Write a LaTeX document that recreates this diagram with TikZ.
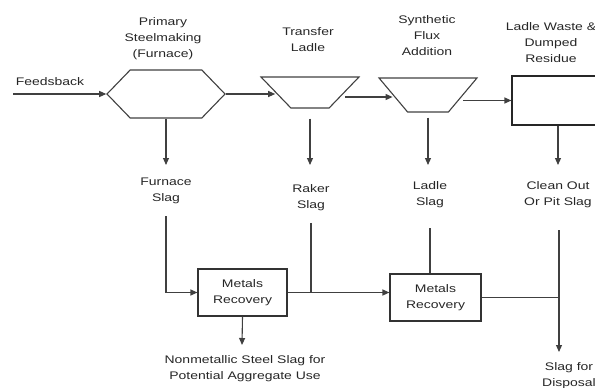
\documentclass[tikz,border=0pt]{standalone}
\usepackage{fontspec}
\setmainfont[FakeStretch=1.27]{Liberation Sans}
\usetikzlibrary{shapes.geometric,shapes.symbols,arrows.meta}

\begin{document}
\begin{tikzpicture}[x=1pt,y=-1pt,
	flow/.style={draw=black!75, line width=1.1pt},
	arr/.style={flow, -{Triangle[length=7pt,width=6pt]}},
	lbl/.style={align=center, inner sep=0pt, text=black!85, font=\fontsize{11}{16}\selectfont},
	ladle/.style={trapezium, draw=black!75, line width=1.1pt, trapezium left angle=52, trapezium right angle=52, shape border rotate=180, trapezium stretches=true, minimum width=98pt, minimum height=31pt, inner sep=2pt},
	unitbox/.style={rectangle, draw=black!80, line width=1.1pt, minimum height=47pt, inner sep=0pt, align=center, text=black!85, font=\fontsize{11}{16}\selectfont}]
	\useasboundingbox (0,0) rectangle (595,388);
	
	%process units
	\node[signal, signal to=west and east, signal pointer angle=92, draw=black!75, line width=1.1pt, minimum width=118pt, minimum height=48pt, inner sep=2pt] (furnace) at (166,94) {};
	\node[ladle] (transfer) at (310,92.5) {};
	\node[ladle, minimum height=34pt, trapezium left angle=55, trapezium right angle=55] (flux) at (428,95) {};
	\node[rectangle, draw=black!85, line width=1.1pt, minimum width=100pt, minimum height=49pt, inner sep=0pt] (waste) at (562,100.5) {};
	\node[unitbox, minimum width=89pt] (rec1) at (242.5,292.5) {Metals\\Recovery};
	\node[unitbox, minimum width=91pt] (rec2) at (435.5,297.5) {Metals\\Recovery};
	
	%labels
	\node[lbl] (feedlbl) at (50,82) {Feedsback};
	\node[lbl] (furnlbl) at (163,38.5) {Primary\\Steelmaking\\(Furnace)};
	\node[lbl] (translbl) at (308,40) {Transfer\\Ladle};
	\node[lbl] (fluxlbl) at (427,35.5) {Synthetic\\Flux\\Addition};
	\node[lbl] (wastelbl) at (551,43) {Ladle Waste \&\\Dumped\\Residue};
	\node[lbl] (furnslag) at (166,191) {Furnace\\Slag};
	\node[lbl] (raker) at (311,197.5) {Raker\\Slag};
	\node[lbl] (ladleslag) at (430,195) {Ladle\\Slag};
	\node[lbl] (pit) at (558,195) {Clean Out\\Or Pit Slag};
	\node[lbl] (nonmet) at (245,368.5) {Nonmetallic Steel Slag for\\Potential Aggregate Use};
	\node[lbl] (disposal) at (569,376) {Slag for\\Disposal};
	
	%free ends
	\coordinate (feed) at (13,94);
	\coordinate (row) at (0,165);
	\coordinate (nmtip) at (242,345);
	\coordinate (disptip) at (559,352);
	
	%main line
	\draw[arr] (feed) -- (furnace.west);
	\draw[arr] (furnace.east) -- (furnace.east -| transfer.west);
	\draw[arr] ([yshift=-4.5pt]transfer.east) -- ([yshift=-4.5pt]transfer.east -| flux.west);
	\draw[arr] (flux.east |- waste.west) -- (waste.west);
	
	%slags
	\draw[arr] (furnace.south) -- (furnace.south |- row);
	\draw[arr] ([yshift=-10pt]transfer.south) -- (transfer.south |- row);
	\draw[arr] ([yshift=-5pt]flux.south) -- (flux.south |- row);
	\draw[arr] (waste.south -| pit) -- (pit |- row);
	
	%recovery
	\draw[arr] ([yshift=-12pt]furnslag.south) |- (rec1.west);
	\draw[arr] (rec1.east) -- (rec1.east -| rec2.west);
	\draw[flow] ([yshift=-12pt]raker.south) -- (raker.south |- rec1.east);
	\draw[flow] ([yshift=-20pt]ladleslag.south) -- (ladleslag.south |- rec2.north);
	\draw[arr] (rec1.south) -- (nmtip);
	\draw[flow] (rec2.east) -- (rec2.east -| disptip);
	\draw[arr] ([yshift=-22pt]pit.south -| disptip) -- (disptip);
\end{tikzpicture}
\end{document}
